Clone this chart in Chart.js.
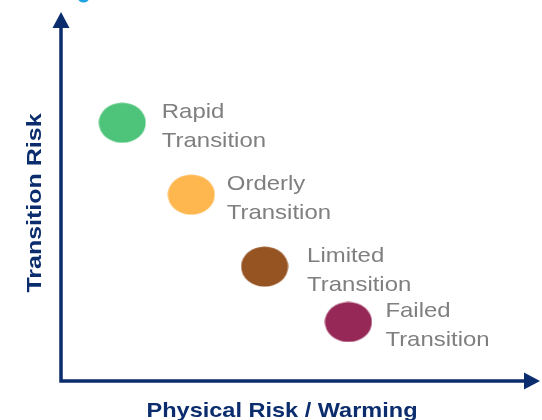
<!DOCTYPE html>
<html>
<head>
<meta charset="utf-8">
<script src="https://cdn.jsdelivr.net/npm/chart.js@4/dist/chart.umd.min.js"></script>
<style>
html,body{margin:0;padding:0;background:#fff;}
#wrap{width:542px;height:420px;}
</style>
</head>
<body>
<div id="wrap"><canvas id="c" width="542" height="420"></canvas></div>
<script>
// ---- data ----
const scenarios = ['Rapid Transition', 'Orderly Transition', 'Limited Transition', 'Failed Transition'];
const physicalRisk = [12.8, 27.2, 42.5, 60.0];
const transitionRisk = [70.0, 50.5, 31.0, 16.0];
const xTitle = 'Physical Risk / Warming';
const yTitle = 'Transition Risk';

// ---- styles ----
const colors = ['#4dc47a', '#feb74f', '#965423', '#952856'];
const labelDx = [39.5, 35.5, 42.5, 37];
const navy = '#0b2d6e';

function ellipse(color) {
  const c = document.createElement('canvas');
  c.width = 48; c.height = 41;
  const g = c.getContext('2d');
  g.fillStyle = color;
  g.beginPath();
  g.ellipse(24, 20.5, 23.5, 20, 0, 0, Math.PI * 2);
  g.fill();
  return c;
}

function stretchedText(ctx, text, x, y, sx, align) {
  ctx.save();
  ctx.translate(x, y);
  ctx.scale(sx, 1);
  ctx.textAlign = align;
  ctx.fillText(text, 0, 0);
  ctx.restore();
}

const decor = {
  id: 'decor',
  afterDraw(chart) {
    const ctx = chart.ctx;
    const a = chart.chartArea;
    const x0 = a.left, y0 = a.bottom;
    ctx.save();
    // small cut-off mark at top
    ctx.fillStyle = '#1ea3e0';
    ctx.beginPath();
    ctx.ellipse(83.5, -3, 6, 5.5, 0, 0, Math.PI * 2);
    ctx.fill();
    // axes
    ctx.strokeStyle = navy;
    ctx.fillStyle = navy;
    ctx.lineWidth = 3.5;
    ctx.beginPath();
    ctx.moveTo(x0, a.top + 14);
    ctx.lineTo(x0, y0);
    ctx.lineTo(a.right - 14, y0);
    ctx.stroke();
    ctx.beginPath();
    ctx.moveTo(x0, a.top);
    ctx.lineTo(x0 - 8.5, a.top + 16);
    ctx.lineTo(x0 + 8.5, a.top + 16);
    ctx.closePath();
    ctx.fill();
    ctx.beginPath();
    ctx.moveTo(a.right, y0);
    ctx.lineTo(a.right - 16, y0 - 8.5);
    ctx.lineTo(a.right - 16, y0 + 8.5);
    ctx.closePath();
    ctx.fill();
    // axis titles
    ctx.font = 'bold 21px "Liberation Sans", Arial, sans-serif';
    ctx.textBaseline = 'alphabetic';
    stretchedText(ctx, xTitle, 282, 417, 1.12, 'center');
    ctx.save();
    ctx.translate(41, 203);
    ctx.rotate(-Math.PI / 2);
    stretchedText(ctx, yTitle, 0, 0, 1.19, 'center');
    ctx.restore();
    // point labels
    ctx.fillStyle = '#7f7f7f';
    ctx.font = '21px "Liberation Sans", Arial, sans-serif';
    const meta = chart.getDatasetMeta(0);
    meta.data.forEach((pt, i) => {
      const parts = scenarios[i].split(' ');
      const lx = pt.x + labelDx[i];
      stretchedText(ctx, parts[0], lx, pt.y - 5, 1.14, 'left');
      stretchedText(ctx, parts[1], lx, pt.y + 24, 1.14, 'left');
    });
    ctx.restore();
  }
};

new Chart(document.getElementById('c'), {
  type: 'scatter',
  data: {
    labels: scenarios,
    datasets: [{
      data: physicalRisk.map((x, i) => ({ x: x, y: transitionRisk[i] })),
      pointStyle: colors.map(ellipse),
      pointRadius: 20,
      pointHoverRadius: 20,
      backgroundColor: colors,
      borderWidth: 0
    }]
  },
  options: {
    responsive: false,
    animation: false,
    events: [],
    layout: { autoPadding: false, padding: { left: 61, right: 2, top: 12, bottom: 39 } },
    plugins: { legend: { display: false }, tooltip: { enabled: false } },
    scales: {
      x: { type: 'linear', min: 0, max: 100, display: false },
      y: { type: 'linear', min: 0, max: 100, display: false }
    }
  },
  plugins: [decor]
});
</script>
</body>
</html>
